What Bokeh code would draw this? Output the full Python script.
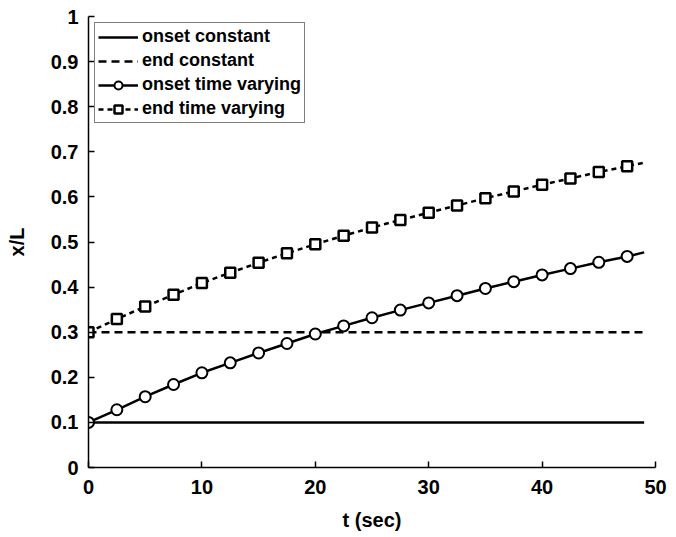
from bokeh.plotting import figure
from bokeh.models import Legend, LegendItem
from bokeh.embed import file_html
from bokeh.resources import INLINE

# data
t_const = [0, 49]
onset_const = [0.1, 0.1]
end_const = [0.3, 0.3]

t_vary = [0, 2.5, 5, 7.5, 10, 12.5, 15, 17.5, 20, 22.5, 25, 27.5, 30, 32.5, 35, 37.5, 40, 42.5, 45, 47.5, 49]
onset_vary = [0.100, 0.128, 0.157, 0.184, 0.210, 0.232, 0.254, 0.275, 0.296, 0.314, 0.332, 0.349, 0.365,
              0.381, 0.397, 0.412, 0.427, 0.441, 0.455, 0.468, 0.477]
end_vary = [0.300, 0.329, 0.357, 0.383, 0.409, 0.432, 0.454, 0.475, 0.495, 0.514, 0.532, 0.549, 0.565,
            0.581, 0.597, 0.612, 0.627, 0.641, 0.655, 0.668, 0.676]
n_markers = 20  # markers every 2.5 s up to 47.5

x_ticks = [0, 10, 20, 30, 40, 50]
y_ticks = [0, 0.1, 0.2, 0.3, 0.4, 0.5, 0.6, 0.7, 0.8, 0.9, 1]

FONT = "Liberation Sans"

p = figure(width=676, height=537, x_range=(0, 50), y_range=(0, 1),
           output_backend="svg", toolbar_location=None,
           min_border_left=88, min_border_right=21, min_border_top=16, min_border_bottom=70)
p.outline_line_color = None
p.xgrid.visible = False
p.ygrid.visible = False

for ax in (p.xaxis, p.yaxis):
    ax.major_tick_in = 6
    ax.major_tick_out = 0
    ax.minor_tick_line_color = None
    ax.axis_line_width = 1.5
    ax.major_tick_line_width = 1.5
    ax.major_label_text_font = FONT
    ax.major_label_text_font_style = "bold"
    ax.major_label_text_font_size = "20px"
    ax.major_label_text_color = "black"
    ax.axis_label_text_font = FONT
    ax.axis_label_text_font_style = "bold"
    ax.axis_label_text_font_size = "20px"
    ax.axis_label_text_color = "black"
    ax.axis_line_color = "black"
    ax.major_tick_line_color = "black"

p.xaxis.ticker = x_ticks
p.yaxis.ticker = y_ticks
p.yaxis.major_label_overrides = {0: "0", 1: "1"}
p.xaxis.axis_label = "t (sec)"
p.yaxis.axis_label = "x/L"
p.xaxis.major_label_standoff = 12
p.yaxis.major_label_standoff = 10
p.xaxis.axis_label_standoff = 12
p.yaxis.axis_label_standoff = 20

lw = 2.5
r1 = p.line(t_const, onset_const, line_color="black", line_width=lw)
r2 = p.line(t_const, end_const, line_color="black", line_width=lw, line_dash="8 5")
r3 = p.line(t_vary, onset_vary, line_color="black", line_width=lw)
r3m = p.scatter(t_vary[:n_markers], onset_vary[:n_markers], marker="circle", size=11,
                fill_color="white", line_color="black", line_width=2)
r4 = p.line(t_vary, end_vary, line_color="black", line_width=lw, line_dash="5 4")
r4m = p.scatter(t_vary[:n_markers], end_vary[:n_markers], marker="square", size=10,
                fill_color="white", line_color="black", line_width=2.5)

legend = Legend(items=[
    LegendItem(label="onset constant", renderers=[r1]),
    LegendItem(label="end constant", renderers=[r2]),
    LegendItem(label="onset time varying", renderers=[r3, r3m]),
    LegendItem(label="end time varying", renderers=[r4, r4m]),
], location="top_left")
legend.margin = 6
legend.padding = 3
legend.spacing = 3
legend.glyph_width = 40
legend.glyph_height = 20
legend.label_height = 20
legend.label_standoff = 4
legend.label_text_font = FONT
legend.label_text_font_style = "bold"
legend.label_text_font_size = "18px"
legend.label_text_color = "black"
legend.border_line_color = "black"
legend.border_line_width = 1.5
legend.background_fill_alpha = 1
p.add_layout(legend)

open("out.html", "w").write(file_html(p, INLINE))
